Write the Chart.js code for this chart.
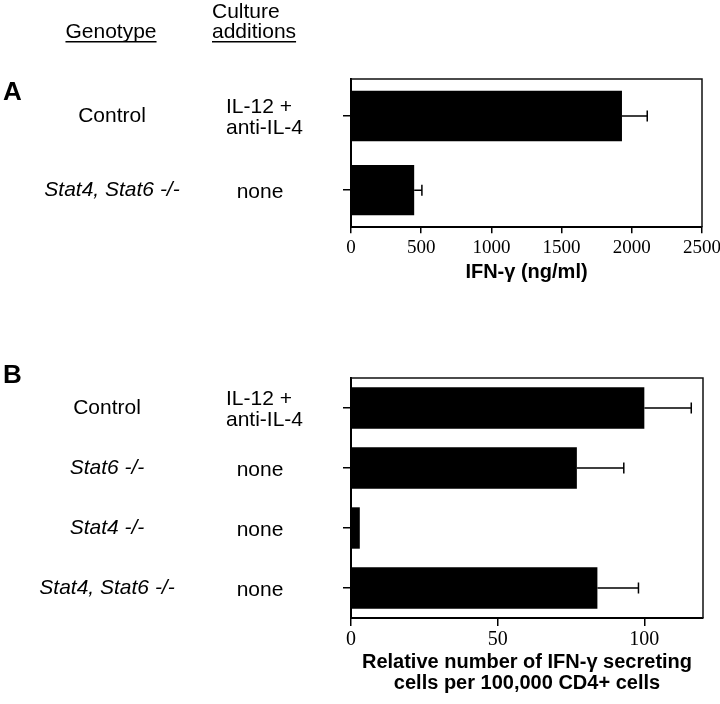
<!DOCTYPE html>
<html>
<head>
<meta charset="utf-8">
<script src="https://cdn.jsdelivr.net/npm/chart.js@4.4.1/dist/chart.umd.min.js"></script>
<style>
  html, body { margin: 0; padding: 0; background: #fff; }
  #wrap { position: relative; width: 720px; height: 704px; overflow: hidden; }
  canvas { position: absolute; left: 0; }
  #chartA { top: 0; }
  #chartB { top: 300px; }
</style>
</head>
<body>
<div id="wrap">
  <canvas id="chartA" width="720" height="300"></canvas>
  <canvas id="chartB" width="720" height="404"></canvas>
</div>
<script>
// Panel A: IFN-gamma in the supernatant
const genotypesA = ['Control', 'Stat4, Stat6 -/-'];
const additionsA = [['IL-12 +', 'anti-IL-4'], ['none']];
const ifnValues = [1930, 450];
const ifnErrors = [180, 55];
const ticksA = [0, 500, 1000, 1500, 2000, 2500];

// Panel B: relative number of IFN-gamma secreting cells
const genotypesB = ['Control', 'Stat6 -/-', 'Stat4 -/-', 'Stat4, Stat6 -/-'];
const additionsB = [['IL-12 +', 'anti-IL-4'], ['none'], ['none'], ['none']];
const relValues = [100, 77, 3, 84];
const relErrors = [16, 16, 0, 14];
const ticksB = [0, 50, 100];

const SANS = '"Liberation Sans", Arial, Helvetica, sans-serif';
const SERIF = '"Liberation Serif", "Times New Roman", serif';

// error bars, only to the right of the bar
const errorBarPlugin = {
    id: 'errorBars',
    afterDatasetsDraw(chart, args, opts) {
        const errs = opts.errors;
        if (!errs) return;
        const ctx = chart.ctx;
        const xScale = chart.scales.x;
        const values = chart.data.datasets[0].data;
        ctx.save();
        ctx.strokeStyle = '#000';
        ctx.lineWidth = 1.5;
        chart.getDatasetMeta(0).data.forEach((bar, i) => {
            if (!errs[i]) return;
            const x0 = xScale.getPixelForValue(values[i]);
            const x1 = xScale.getPixelForValue(values[i] + errs[i]);
            ctx.beginPath();
            ctx.moveTo(x0, bar.y);
            ctx.lineTo(x1, bar.y);
            ctx.moveTo(x1, bar.y - 5.5);
            ctx.lineTo(x1, bar.y + 5.5);
            ctx.stroke();
        });
        ctx.restore();
    }
};

// top and right edges of the plot box
const framePlugin = {
    id: 'frame',
    afterDraw(chart) {
        const {ctx, chartArea: a} = chart;
        ctx.save();
        ctx.strokeStyle = '#111';
        ctx.lineWidth = 1.5;
        ctx.beginPath();
        ctx.moveTo(a.left, a.top);
        ctx.lineTo(a.right, a.top);
        ctx.lineTo(a.right, a.bottom);
        ctx.stroke();
        ctx.restore();
    }
};

function underlined(ctx, text, x, y, align) {
    ctx.textAlign = align;
    ctx.fillText(text, x, y);
    const w = ctx.measureText(text).width;
    const x0 = align === 'center' ? x - w / 2 : x;
    ctx.fillRect(x0, y + 3, w, 1.5);
}

// genotype / culture additions columns, tied to the category scale
const sideLabelPlugin = {
    id: 'sideLabels',
    afterDraw(chart, args, opts) {
        const ctx = chart.ctx;
        const yScale = chart.scales.y;
        ctx.save();
        ctx.fillStyle = '#000';
        ctx.textBaseline = 'alphabetic';

        ctx.font = 'bold 26px ' + SANS;
        ctx.textAlign = 'left';
        ctx.fillText(opts.letter, 3, opts.letterY);

        if (opts.header) {
            ctx.font = '21px ' + SANS;
            underlined(ctx, 'Genotype', 111, 38, 'center');
            ctx.textAlign = 'left';
            ctx.fillText('Culture', 212, 18);
            underlined(ctx, 'additions', 212, 38, 'left');
        }

        opts.genotypes.forEach((g, i) => {
            const cy = yScale.getPixelForValue(i);
            ctx.font = (g === 'Control' ? '' : 'italic ') + '21px ' + SANS;
            ctx.textAlign = 'center';
            ctx.fillText(g, opts.genoX, cy + 6);

            const add = opts.additions[i];
            ctx.font = '21px ' + SANS;
            if (add.length > 1) {
                ctx.textAlign = 'left';
                ctx.fillText(add[0], 226, cy - 3);
                ctx.fillText(add[1], 226, cy + 18);
            } else {
                ctx.textAlign = 'center';
                ctx.fillText(add[0], 260, cy + 8);
            }
        });
        ctx.restore();
    }
};

function makeChart(id, cfg) {
    return new Chart(document.getElementById(id), {
        type: 'bar',
        data: {
            labels: cfg.labels,
            datasets: [{
                data: cfg.values,
                backgroundColor: '#000',
                borderWidth: 0,
                categoryPercentage: 1,
                barPercentage: cfg.barPct
            }]
        },
        options: {
            indexAxis: 'y',
            responsive: false,
            animation: false,
            devicePixelRatio: 1,
            layout: { padding: cfg.padding },
            plugins: {
                legend: { display: false },
                tooltip: { enabled: false },
                errorBars: { errors: cfg.errors },
                sideLabels: cfg.side
            },
            scales: {
                x: {
                    type: 'linear',
                    min: 0,
                    max: cfg.max,
                    afterBuildTicks: (scale) => {
                        scale.ticks = cfg.ticks.map(v => ({ value: v }));
                    },
                    // let the last tick label hang past the plot box
                    afterFit: (scale) => {
                        scale.paddingRight = 0;
                    },
                    grid: { drawOnChartArea: false, tickLength: cfg.tickLen, color: '#000', lineWidth: 1.5 },
                    border: { color: '#000', width: 2 },
                    ticks: {
                        color: '#000',
                        font: { family: SERIF, size: cfg.tickSize, lineHeight: cfg.tickLH },
                        padding: cfg.tickPad,
                        maxRotation: 0,
                        callback: (v) => String(v)
                    },
                    title: {
                        display: true,
                        text: cfg.title,
                        color: '#000',
                        font: { family: SANS, size: 20, weight: 'bold', lineHeight: 1.05 },
                        padding: { top: cfg.titlePad, bottom: 0 }
                    }
                },
                y: {
                    grid: { drawOnChartArea: false, offset: false, tickLength: 8, color: '#000', lineWidth: 1.5 },
                    border: { color: '#000', width: 2 },
                    ticks: { display: false }
                }
            }
        },
        plugins: [errorBarPlugin, framePlugin, sideLabelPlugin]
    });
}

makeChart('chartA', {
    labels: genotypesA,
    values: ifnValues,
    errors: ifnErrors,
    ticks: ticksA,
    max: 2500,
    barPct: 0.68,
    tickLen: 6,
    tickSize: 19,
    tickLH: 1.2,
    tickPad: 3,
    titlePad: 0,
    title: 'IFN-γ (ng/ml)',
    padding: { left: 343, right: 18, top: 79, bottom: 17 },
    side: { letter: 'A', letterY: 100, header: true, genoX: 112, genotypes: genotypesA, additions: additionsA }
});

makeChart('chartB', {
    labels: genotypesB,
    values: relValues,
    errors: relErrors,
    ticks: ticksB,
    max: 120,
    barPct: 0.69,
    tickLen: 8,
    tickSize: 20,
    tickLH: 1.0,
    tickPad: 4,
    titlePad: -2,
    title: ['Relative number of IFN-γ secreting', 'cells per 100,000 CD4+ cells'],
    padding: { left: 343, right: 17, top: 78, bottom: 10 },
    side: { letter: 'B', letterY: 83, header: false, genoX: 107, genotypes: genotypesB, additions: additionsB }
});
</script>
</body>
</html>
